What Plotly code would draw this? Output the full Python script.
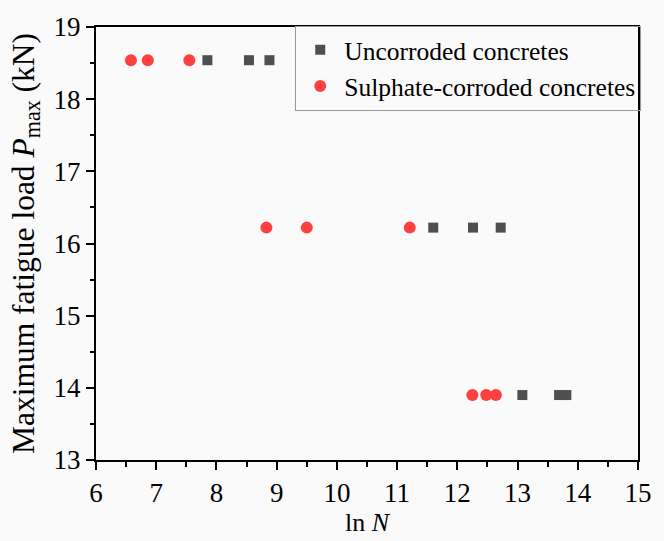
import plotly.graph_objects as go

# Fatigue test results: ln N versus maximum fatigue load
uncorroded_lnN = [7.85, 8.54, 8.88, 11.60, 12.26, 12.72, 13.08, 13.69, 13.81]
uncorroded_P = [18.54, 18.54, 18.54, 16.22, 16.22, 16.22, 13.90, 13.90, 13.90]

sulphate_lnN = [6.58, 6.86, 7.55, 8.83, 9.50, 11.21, 12.25, 12.48, 12.64]
sulphate_P = [18.54, 18.54, 18.54, 16.22, 16.22, 16.22, 13.90, 13.90, 13.90]

x_ticks = list(range(6, 16))
y_ticks = list(range(13, 20))

FONT = "Liberation Serif"

fig = go.Figure()
fig.add_trace(go.Scatter(
    x=uncorroded_lnN, y=uncorroded_P, mode="markers",
    name="Uncorroded concretes",
    marker=dict(symbol="square", size=10, color="#4f4f4f"),
))
fig.add_trace(go.Scatter(
    x=sulphate_lnN, y=sulphate_P, mode="markers",
    name="Sulphate-corroded concretes",
    marker=dict(symbol="circle", size=12, color="#ff4040"),
))

axis_common = dict(
    showline=True, linecolor="black", linewidth=2, mirror=True,
    ticks="outside", ticklen=8, tickwidth=2, tickcolor="black",
    showgrid=False, zeroline=False,
    tickfont=dict(family=FONT, size=27, color="black"),
)

fig.update_xaxes(
    range=[6, 15], tickvals=x_ticks,
    minor=dict(dtick=0.5, ticks="outside", ticklen=4.5, tickwidth=2, tickcolor="black"),
    title=dict(text="ln <i>N</i>", font=dict(family=FONT, size=26, color="black"), standoff=2),
    **axis_common,
)
fig.update_yaxes(
    range=[13, 19], tickvals=y_ticks,
    minor=dict(dtick=0.5, ticks="outside", ticklen=4.5, tickwidth=2, tickcolor="black"),
    title=dict(text="Maximum fatigue load <i>P</i><sub>max</sub> (kN)",
               font=dict(family=FONT, size=31.5, color="black"), standoff=10),
    **axis_common,
)

fig.update_layout(
    width=664, height=541,
    margin=dict(l=96, r=12, t=18, b=77),
    paper_bgcolor="#fafafa", plot_bgcolor="#fafafa",
    showlegend=True,
    legend=dict(
        x=1.006, y=1.003, xanchor="right", yanchor="top",
        bgcolor="rgba(0,0,0,0)", bordercolor="#999999", borderwidth=1,
        font=dict(family=FONT, size=25.5, color="black"),
        tracegroupgap=0, itemwidth=38,
    ),
)

fig.write_html("out.html")
